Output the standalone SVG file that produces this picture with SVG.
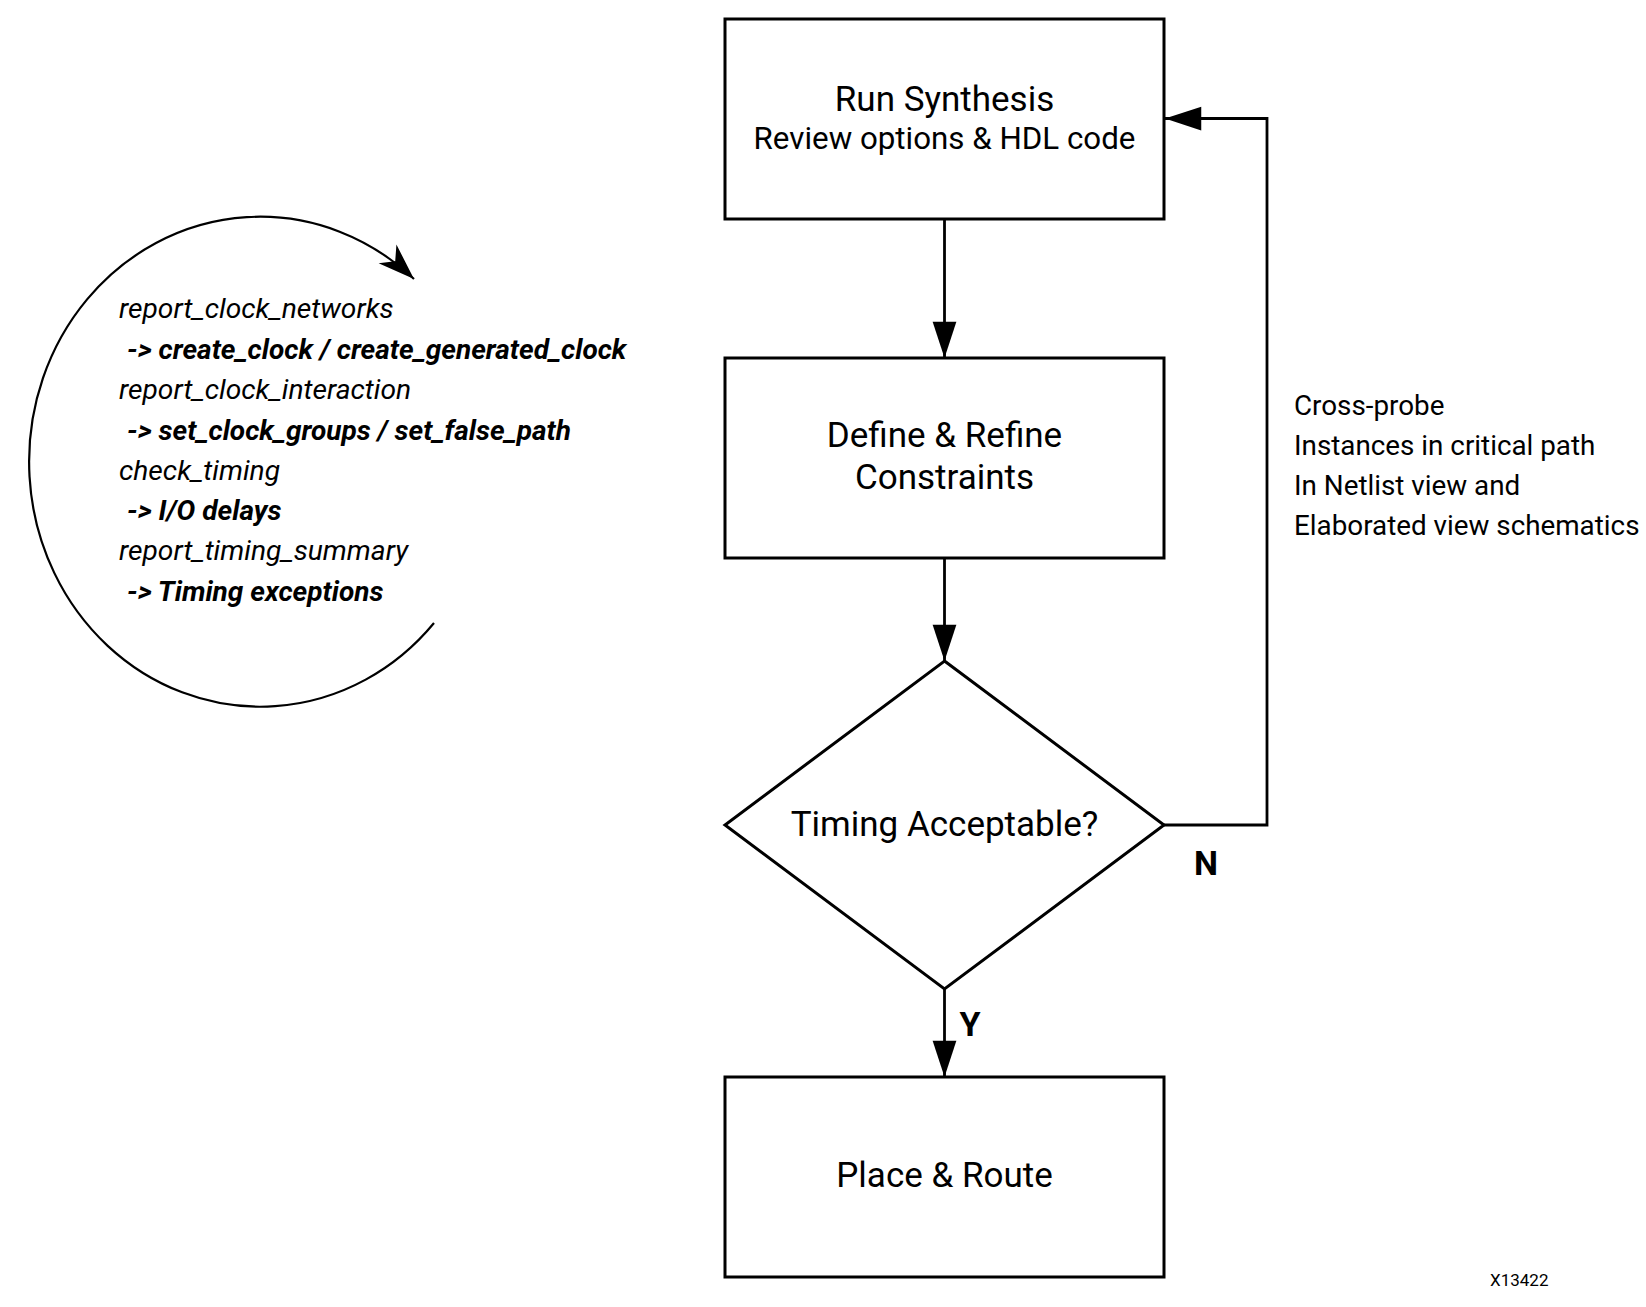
<svg xmlns="http://www.w3.org/2000/svg" width="1646" height="1307" viewBox="0 0 1646 1307">
  <style>
    text { font-family: Roboto, "Liberation Sans", sans-serif; fill: #000; }
    .box { fill: #fff; stroke: #000; stroke-width: 3; }
    .conn { fill: none; stroke: #000; stroke-width: 2.8; }
    .loop { fill: none; stroke: #000; stroke-width: 2.2; }
    .title { font-size: 35px; text-anchor: middle; }
    .sub { font-size: 31.3px; text-anchor: middle; }
    .note { font-size: 27.8px; }
    .it { font-size: 28.2px; font-style: italic; }
    .bi { font-size: 28px; font-style: italic; font-weight: bold; }
    .lbl { font-size: 34px; font-weight: bold; text-anchor: middle; }
    .id { font-size: 17px; }
  </style>
  <defs>
    <marker id="arrow" markerUnits="userSpaceOnUse" markerWidth="40" markerHeight="40" viewBox="-30 -15 32 30" refX="0" refY="0" orient="auto">
      <path d="M0,0 L-29,-9.5 L-29,9.5 Z" fill="#000"/>
    </marker>
    <marker id="stealth" markerUnits="userSpaceOnUse" markerWidth="40" markerHeight="40" viewBox="-32 -15 34 30" refX="0" refY="0" orient="auto">
      <path d="M0,0 L-31,-11 L-22,0 L-31,11 Z" fill="#000"/>
    </marker>
  </defs>

  <g id="loop">
    <path class="loop" d="M434,623 A231,245 0 1 1 414,279" marker-end="url(#stealth)"/>
    <text class="it" x="119" y="318">report_clock_networks</text>
    <text class="bi" x="127" y="358.5">-&gt; create_clock / create_generated_clock</text>
    <text class="it" x="119" y="399">report_clock_interaction</text>
    <text class="bi" x="127" y="439.5">-&gt; set_clock_groups / set_false_path</text>
    <text class="it" x="119" y="479.5">check_timing</text>
    <text class="bi" x="127" y="520">-&gt; I/O delays</text>
    <text class="it" x="119" y="560">report_timing_summary</text>
    <text class="bi" x="127" y="600.5">-&gt; Timing exceptions</text>
  </g>

  <g id="connectors">
    <path class="conn" d="M944.5,219 L944.5,358" marker-end="url(#arrow)"/>
    <path class="conn" d="M944.5,558 L944.5,661" marker-end="url(#arrow)"/>
    <path class="conn" d="M944.5,989 L944.5,1077" marker-end="url(#arrow)"/>
    <path class="conn" d="M1164,825 L1267,825 L1267,118.5 L1165,118.5" marker-end="url(#arrow)"/>
    <text class="lbl" x="1206" y="875">N</text>
    <text class="lbl" x="970" y="1036">Y</text>
  </g>

  <g id="run-synthesis">
    <rect class="box" x="725" y="19" width="439" height="200"/>
    <text class="title" x="944.5" y="111">Run Synthesis</text>
    <text class="sub" x="944.5" y="148.5">Review options &amp; HDL code</text>
  </g>

  <g id="define-constraints">
    <rect class="box" x="725" y="358" width="439" height="200"/>
    <text class="title" x="944.5" y="447">Define &amp; Refine</text>
    <text class="title" x="944.5" y="489">Constraints</text>
  </g>

  <g id="timing-acceptable">
    <polygon class="box" points="944.5,661 1164,825 944.5,989 725,825"/>
    <text class="title" x="944.5" y="836">Timing Acceptable?</text>
  </g>

  <g id="place-route">
    <rect class="box" x="725" y="1077" width="439" height="200"/>
    <text class="title" x="944.5" y="1187">Place &amp; Route</text>
  </g>

  <g id="cross-probe-note">
    <text class="note" x="1294" y="415">Cross-probe</text>
    <text class="note" x="1294" y="455">Instances in critical path</text>
    <text class="note" x="1294" y="495">In Netlist view and</text>
    <text class="note" x="1294" y="535">Elaborated view schematics</text>
  </g>

  <text class="id" x="1490" y="1286">X13422</text>
</svg>
